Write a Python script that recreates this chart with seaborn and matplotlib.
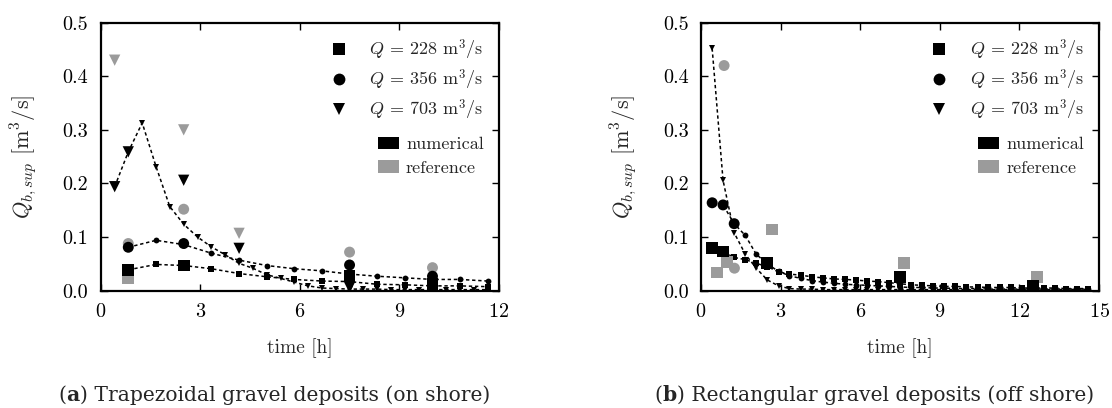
import matplotlib
matplotlib.use("Agg")
import matplotlib.pyplot as plt
import seaborn as sns
from matplotlib.lines import Line2D
from matplotlib.patches import Patch

# ---- (a) trapezoidal gravel deposits, on shore ----
t_a_tri = [0.42, 0.83, 1.25, 1.67, 2.08, 2.5, 2.92, 3.33, 3.75, 4.17, 4.58, 5.0, 5.42, 5.83,
           6.25, 6.67, 7.08, 7.5, 7.92, 8.33, 8.75, 9.17, 9.58, 10.0, 10.42, 10.83, 11.25, 11.67]
a_q703 = [0.194, 0.259, 0.313, 0.231, 0.157, 0.124, 0.100, 0.082, 0.067, 0.051, 0.042, 0.030, 0.023, 0.016,
          0.009, 0.005, 0.004, 0.003, 0.003, 0.003, 0.002, 0.002, 0.002, 0.002, 0.002, 0.002, 0.002, 0.002]
t_a = [0.83, 1.67, 2.5, 3.33, 4.17, 5.0, 5.83, 6.67, 7.5, 8.33, 9.17, 10.0, 10.83, 11.67]
a_q356 = [0.081, 0.094, 0.086, 0.070, 0.057, 0.047, 0.041, 0.037, 0.031, 0.027, 0.024, 0.021, 0.021, 0.018]
a_q228 = [0.039, 0.049, 0.047, 0.041, 0.032, 0.026, 0.021, 0.018, 0.017, 0.012, 0.011, 0.009, 0.009, 0.0075]

# numerical values at the measuring times
a_num_t228 = [0.83, 2.5, 7.5, 10.0]
a_num_228 = [0.039, 0.047, 0.027, 0.013]
a_num_t356 = [0.83, 2.5, 7.5, 10.0]
a_num_356 = [0.081, 0.088, 0.048, 0.027]
a_num_t703 = [0.42, 0.83, 2.5, 4.17, 7.5, 10.0]
a_num_703 = [0.194, 0.259, 0.206, 0.079, 0.006, 0.004]
# reference values
a_ref_t228 = [0.83]
a_ref_228 = [0.023]
a_ref_t356 = [0.83, 2.5, 7.5, 10.0]
a_ref_356 = [0.088, 0.152, 0.072, 0.043]
a_ref_t703 = [0.42, 2.5, 4.17]
a_ref_703 = [0.430, 0.300, 0.107]

# ---- (b) rectangular gravel deposits, off shore ----
t_b = [0.42, 0.83, 1.25, 1.67, 2.08, 2.5, 2.92, 3.33, 3.75, 4.17, 4.58, 5.0, 5.42, 5.83, 6.25, 6.67,
       7.08, 7.5, 7.92, 8.33, 8.75, 9.17, 9.58, 10.0, 10.42, 10.83, 11.25, 11.67, 12.08, 12.5, 12.92,
       13.33, 13.75, 14.17, 14.58]
b_q228 = [0.079, 0.073, 0.062, 0.058, 0.051, 0.045, 0.035, 0.031, 0.029, 0.026, 0.024, 0.022, 0.021,
          0.020, 0.018, 0.017, 0.015, 0.013, 0.011, 0.010, 0.009, 0.008, 0.008, 0.007, 0.007, 0.006,
          0.006, 0.006, 0.005, 0.005, 0.005, 0.005, 0.004, 0.004, 0.004]
b_q356 = [0.164, 0.160, 0.125, 0.103, 0.068, 0.050, 0.036, 0.028, 0.023, 0.019, 0.016, 0.014, 0.012,
          0.011, 0.010, 0.009, 0.008, 0.007, 0.006, 0.006, 0.005, 0.005, 0.004, 0.004, 0.004, 0.003,
          0.003, 0.003, 0.003, 0.003, 0.003, 0.003, 0.003, 0.003, 0.003]
b_q703 = [0.452, 0.206, 0.108, 0.068, 0.042, 0.020, 0.009, 0.004, 0.003, 0.003, 0.002, 0.002, 0.002,
          0.002, 0.002, 0.002, 0.002, 0.002, 0.002, 0.002, 0.002, 0.002, 0.002, 0.002, 0.002, 0.002,
          0.002, 0.002, 0.002, 0.002, 0.002, 0.002, 0.002, 0.002, 0.002]

b_num_t228 = [0.42, 0.83, 2.5, 7.5, 12.5]
b_num_228 = [0.079, 0.073, 0.051, 0.025, 0.009]
b_num_t356 = [0.42, 0.83, 1.25]
b_num_356 = [0.164, 0.160, 0.125]
b_ref_t228 = [0.59, 0.97, 2.68, 7.65, 12.65]
b_ref_228 = [0.034, 0.054, 0.114, 0.052, 0.026]
b_ref_t356 = [0.87, 1.26]
b_ref_356 = [0.420, 0.042]

q_labels = ["$Q$ = 228 m$^3$/s", "$Q$ = 356 m$^3$/s", "$Q$ = 703 m$^3$/s"]
src_labels = ["numerical", "reference"]

GREY = "#9b9b9b"
DASH = (0, (2.2, 1.8))
BIG = {"s": 72, "o": 62, "v": 66}
SMALL = {"s": 3.7, "o": 4.2, "v": 4.5}

sns.set_style("ticks")
plt.rcParams["font.family"] = ["cmr10"]
plt.rcParams["mathtext.fontset"] = "cm"
plt.rcParams["axes.formatter.use_mathtext"] = True
plt.rcParams["axes.unicode_minus"] = False


def draw_series(ax, t, y, marker):
    sns.lineplot(x=t, y=y, ax=ax, color="black", marker=marker, markersize=SMALL[marker],
                 markeredgewidth=0, linestyle=DASH, linewidth=1.1, estimator=None, sort=False, zorder=2)


def draw_points(ax, t, y, marker, color, z):
    sns.scatterplot(x=t, y=y, ax=ax, marker=marker, s=BIG[marker], color=color,
                    edgecolor="none", linewidth=0, zorder=z)


def style_axes(ax, xmax):
    ax.set_xlim(0, xmax)
    ax.set_ylim(0, 0.5)
    ax.set_xticks(range(0, xmax + 1, 3))
    ax.set_yticks([0.0, 0.1, 0.2, 0.3, 0.4, 0.5])
    ax.yaxis.set_major_formatter(matplotlib.ticker.FormatStrFormatter("%.1f"))
    for sp in ax.spines.values():
        sp.set_visible(True)
        sp.set_linewidth(1.6)
        sp.set_color("black")
    ax.tick_params(direction="in", length=5, width=1, top=True, right=True,
                   labelsize=14.5, pad=9, colors="black")
    ax.set_xlabel("time [h]", fontsize=14)
    ax.set_ylabel("$Q_{b,sup}$ [m$^3$/s]", fontsize=16)
    ax.xaxis.set_label_coords(0.5, -0.178)
    ax.yaxis.set_label_coords(-0.156, 0.5)

    q_handles = [Line2D([], [], color="black", marker=m, linestyle="none", markersize=8.5,
                        markeredgewidth=0) for m in ("s", "o", "v")]
    leg1 = ax.legend(q_handles, q_labels, loc="upper right", bbox_to_anchor=(0.962, 0.945),
                     frameon=False, fontsize=13, handlelength=1.0, handletextpad=1.2,
                     labelspacing=0.3, borderpad=0, borderaxespad=0)
    ax.add_artist(leg1)
    src_handles = [Patch(facecolor="black", edgecolor="none"), Patch(facecolor=GREY, edgecolor="none")]
    ax.legend(src_handles, src_labels, loc="upper right", bbox_to_anchor=(0.962, 0.575),
              frameon=False, fontsize=13, handlelength=1.17, handletextpad=0.4,
              labelspacing=0.45, borderpad=0, borderaxespad=0)


fig = plt.figure(figsize=(11.12, 4.08), dpi=100)
ax_a = fig.add_axes([0.0906, 0.2875, 0.358, 0.657])
ax_b = fig.add_axes([0.6304, 0.2875, 0.358, 0.657])

# panel (a)
draw_series(ax_a, t_a, a_q228, "s")
draw_series(ax_a, t_a, a_q356, "o")
draw_series(ax_a, t_a_tri, a_q703, "v")
draw_points(ax_a, a_ref_t228, a_ref_228, "s", GREY, 3)
draw_points(ax_a, a_ref_t356, a_ref_356, "o", GREY, 3)
draw_points(ax_a, a_ref_t703, a_ref_703, "v", GREY, 3)
draw_points(ax_a, a_num_t228, a_num_228, "s", "black", 4)
draw_points(ax_a, a_num_t356, a_num_356, "o", "black", 4)
draw_points(ax_a, a_num_t703, a_num_703, "v", "black", 4)
style_axes(ax_a, 12)

# panel (b)
draw_series(ax_b, t_b, b_q228, "s")
draw_series(ax_b, t_b, b_q356, "o")
draw_series(ax_b, t_b, b_q703, "v")
draw_points(ax_b, b_ref_t228, b_ref_228, "s", GREY, 3)
draw_points(ax_b, b_ref_t356, b_ref_356, "o", GREY, 3)
draw_points(ax_b, b_num_t228, b_num_228, "s", "black", 4)
draw_points(ax_b, b_num_t356, b_num_356, "o", "black", 4)
style_axes(ax_b, 15)


def caption(x_center, letter, rest):
    parts = [("(", "normal"), (letter, "bold"), (") " + rest, "normal")]
    texts = [fig.text(0, 0.018, s, fontsize=14.6, family="DejaVu Serif", fontweight=w, va="baseline")
             for s, w in parts]
    renderer = fig.canvas.get_renderer()
    widths = [t.get_window_extent(renderer).width for t in texts]
    fw = fig.get_figwidth() * fig.dpi
    x = x_center * fw - sum(widths) / 2
    for t, w in zip(texts, widths):
        t.set_x(x / fw)
        x += w


caption(274 / 1112, "a", "Trapezoidal gravel deposits (on shore)")
caption(874 / 1112, "b", "Rectangular gravel deposits (off shore)")

fig.savefig("out.png", dpi=100)
